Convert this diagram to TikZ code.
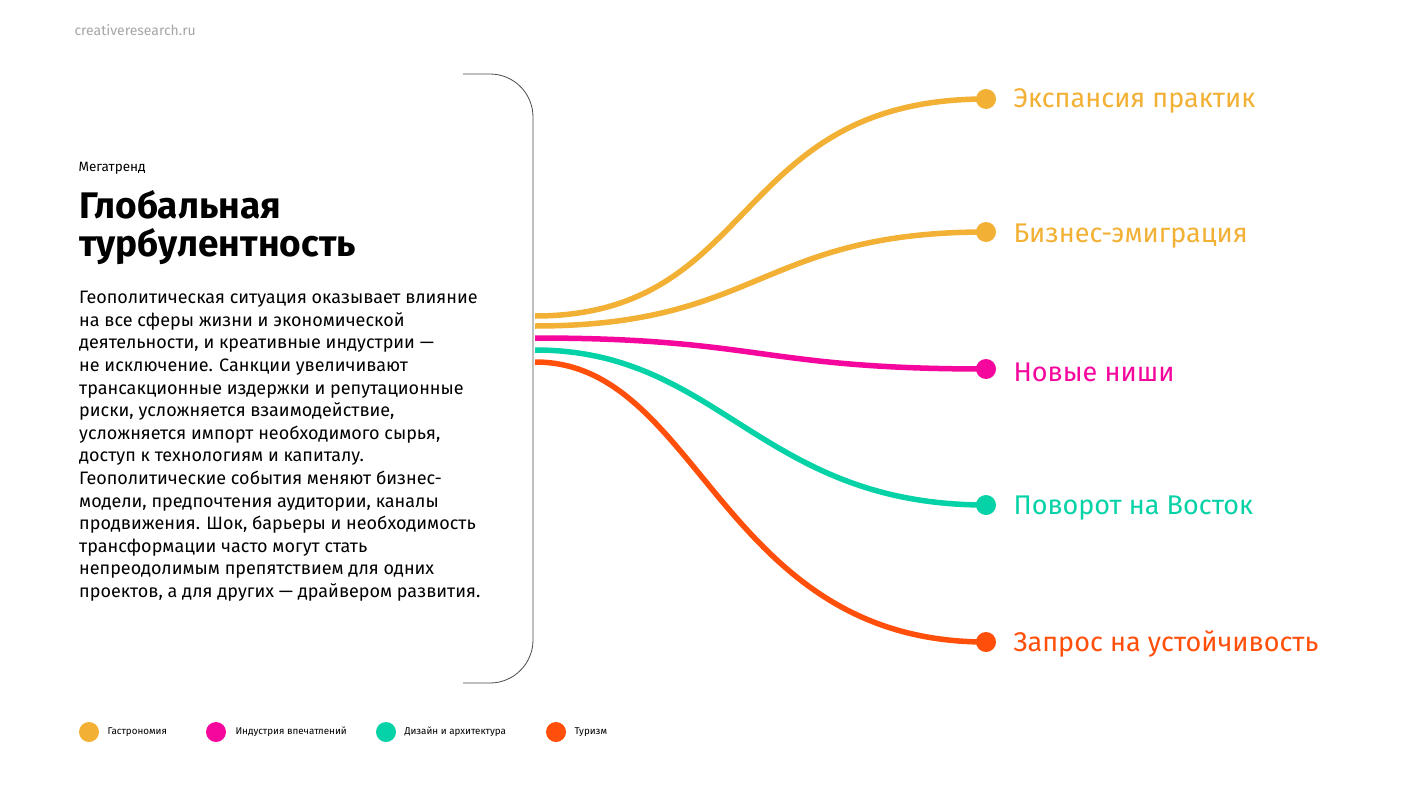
\documentclass[tikz,border=0pt]{standalone}
\usepackage{fontspec}
\setmainfont{Fira Sans}
\definecolor{colY}{HTML}{F2B134}
\definecolor{colM}{HTML}{F5079E}
\definecolor{colT}{HTML}{05D2A6}
\definecolor{colO}{HTML}{FF4F0A}
\begin{document}
\begin{tikzpicture}[x=1pt,y=-1pt,
  lbl/.style={anchor=west,font=\fontsize{27}{30}\selectfont},
  dot/.style={circle,fill,minimum size=20pt,inner sep=0pt},
  flow/.style={line width=5.5pt},
  leg/.style={anchor=west,font=\fontsize{9.8}{11}\selectfont}]
\useasboundingbox[fill=white] (0,0) rectangle (1427,803);
\node[anchor=west,text=gray!70,font=\fontsize{14}{16}\selectfont] (site) at (71,30) {creativeresearch.ru};
\draw[gray!60!black,line width=0.8pt] (463,74) -- (490,74) arc[start angle=-90,end angle=0,radius=43] -- (533,640) arc[start angle=0,end angle=90,radius=43] -- (463,683);
\node[anchor=west,font=\fontsize{13.5}{15}\selectfont] (mt) at (75,168) {Мегатренд};
\node[anchor=north west,align=left,inner sep=0pt,font=\fontsize{37}{38}\selectfont\bfseries] (title) at (79,190) {Глобальная\\турбулентность};
\node[anchor=north west,align=left,inner sep=0pt,font=\fontsize{18}{22.6}\selectfont] (body) at (79,291) {Геополитическая ситуация оказывает влияние\\на все сферы жизни и экономической\\деятельности, и креативные индустрии —\\не исключение. Санкции увеличивают\\трансакционные издержки и репутационные\\риски, усложняется взаимодействие,\\усложняется импорт необходимого сырья,\\доступ к технологиям и капиталу.\\Геополитические события меняют бизнес-\\модели, предпочтения аудитории, каналы\\продвижения. Шок, барьеры и необходимость\\трансформации часто могут стать\\непреодолимым препятствием для одних\\проектов, а для других — драйвером развития.};
\coordinate (s1) at (535,316);\coordinate (s2) at (535,326);\coordinate (s3) at (535,338);
\coordinate (s4) at (535,350);\coordinate (s5) at (535,362);
\coordinate (d1) at (986,99);\coordinate (d2) at (986,232);
\coordinate (d3) at (986,369);\coordinate (d4) at (986,505);\coordinate (d5) at (986,642);
\draw[flow,colY] (s1) .. controls (760,316) and (730,99) .. (d1);
\draw[flow,colY] (s2) .. controls (760,326) and (760,232) .. (d2);
\draw[flow,colM] (s3) .. controls (760,338) and (760,369) .. (d3);
\draw[flow,colT] (s4) .. controls (720,350) and (760,505) .. (d4);
\draw[flow,colO] (s5) .. controls (700,362) and (720,642) .. (d5);
\node[dot,colY] (c1) at (d1) {};\node[dot,colY] (c2) at (d2) {};
\node[dot,colM] (c3) at (d3) {};\node[dot,colT] (c4) at (d4) {};\node[dot,colO] (c5) at (d5) {};
\node[lbl,colY] (l1) at (1010,101) {Экспансия практик};
\node[lbl,colY] (l2) at (1010,236) {Бизнес-эмиграция};
\node[lbl,colM] (l3) at (1010,372) {Новые ниши};
\node[lbl,colT] (l4) at (1010,508) {Поворот на Восток};
\node[lbl,colO] (l5) at (1010,644) {Запрос на устойчивость};
\node[dot,colY] (g1) at (89,732) {};\node[leg] (t1) at (104,732) {Гастрономия};
\node[dot,colM] (g2) at (216,732) {};\node[leg] (t2) at (232,732) {Индустрия впечатлений};
\node[dot,colT] (g3) at (386,732) {};\node[leg] (t3) at (401,732) {Дизайн и архитектура};
\node[dot,colO] (g4) at (556,732) {};\node[leg] (t4) at (571,732) {Туризм};
\end{tikzpicture}
\end{document}
